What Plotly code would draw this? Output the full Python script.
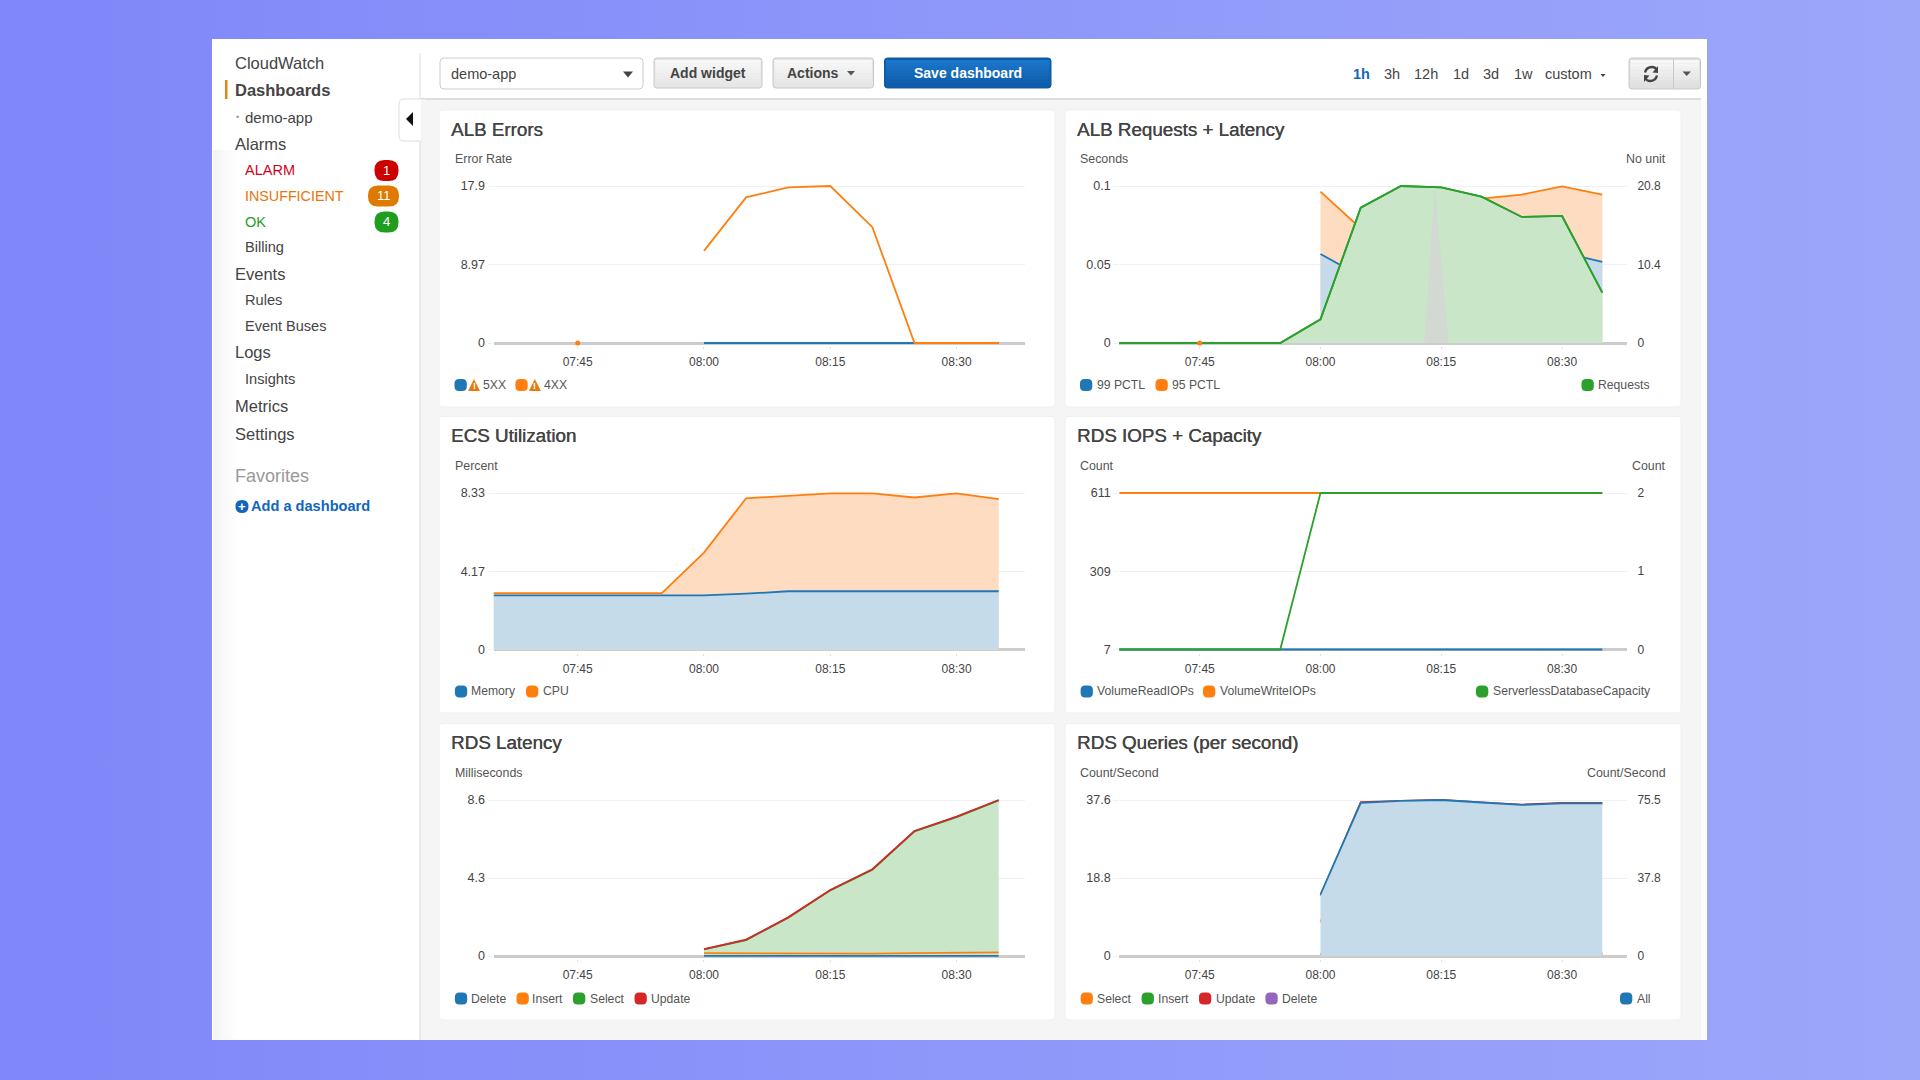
import plotly.graph_objects as go
from urllib.parse import quote

# ---------- data ----------
DAY = "2024-01-01 "
times = ["07:35","07:40","07:45","07:50","07:55","08:00","08:05","08:10","08:15","08:20","08:25","08:30","08:35"]
x_ticks = ["07:45","08:00","08:15","08:30"]

alb_5xx = [None,None,None,None,None,0,0,0,0,0,0,0,0]
alb_4xx = [None,None,None,None,None,10.5,16.6,17.75,17.9,13.2,0,0,0]
alb_4xx_dot = [None,None,0,None,None,None,None,None,None,None,None,None,None]

p99 = [None,None,None,None,None,0.0567,0.0425,0.045,0.047,0.05,0.055,0.0577,0.0516]
p95 = [None,None,None,None,None,0.0964,0.073,0.08,0.085,0.092,0.0945,0.0998,0.0945]
p95_dot = [None,None,0,None,None,None,None,None,None,None,None,None,None]
requests = [0,0,0,0,0,3.13,17.93,20.8,20.62,19.39,16.7,16.83,6.67]
spike_t = ["08:12:54","08:14:12","08:15:54"]
spike_v = [0,20.5,0]

memory = [2.88,2.88,2.88,2.88,2.88,2.88,2.97,3.10,3.10,3.10,3.10,3.10,3.10]
cpu = [3.0,3.0,3.0,3.0,3.0,5.16,8.05,8.18,8.31,8.31,8.09,8.31,8.0]

read_iops = [7,7,7,7,7,7,7,7,7,7,7,7,7]
write_iops = [611,611,611,611,611,611,611,611,611,611,611,611,611]
capacity = [0,0,0,0,0,2,2,2,2,2,2,2,2]

lat_delete = [None,None,None,None,None,0.01,0.01,0.01,0.01,0.01,0.01,0.01,0.01]
lat_insert = [None,None,None,None,None,0.157,0.15,0.14,0.11,0.13,0.157,0.18,0.2]
lat_select = [None,None,None,None,None,0.36,0.88,2.11,3.62,4.76,6.87,7.66,8.58]
lat_update = [None,None,None,None,None,0.38,0.90,2.13,3.64,4.78,6.89,7.68,8.6]

q_select = [None,None,None,None,None,8.1,36.6,36.9,37.2,36.8,36.3,36.6,36.6]
q_insert = [None,None,None,None,None,0.5,0.6,0.6,0.6,0.6,0.6,0.6,0.6]
q_update = [None,None,None,None,None,14.5,37.1,37.4,37.6,37.0,36.5,36.9,36.9]
q_delete = [None,None,None,None,None,0.5,0.5,0.5,0.5,0.5,0.5,0.5,0.5]
q_all = [None,None,None,None,None,29.8,74.1,75.1,75.5,74.3,73.1,73.9,73.9]

BLUE, ORANGE, GREEN, RED, PURPLE = "#1f77b4", "#ff7f0e", "#2ca02c", "#d62728", "#9467bd"
F_BLUE, F_ORANGE, F_GREEN = "#c5dbea", "#fddcc1", "#c9e6c9"
FONT = "Liberation Sans"
TXT = "#444444"

W, H = 1920, 1080
def fx(p): return p / W
def fy(p): return 1 - p / H
def T(t): return DAY + t

fig = go.Figure()
shapes, annots = [], []

def rrect(x0, y0, x1, y1, r, fill, line=None, lw=1):
    px = lambda a: f"{fx(a):.6f}"
    py = lambda a: f"{fy(a):.6f}"
    d = (f"M {px(x0+r)} {py(y0)} L {px(x1-r)} {py(y0)} Q {px(x1)} {py(y0)} {px(x1)} {py(y0+r)} "
         f"L {px(x1)} {py(y1-r)} Q {px(x1)} {py(y1)} {px(x1-r)} {py(y1)} "
         f"L {px(x0+r)} {py(y1)} Q {px(x0)} {py(y1)} {px(x0)} {py(y1-r)} "
         f"L {px(x0)} {py(y0+r)} Q {px(x0)} {py(y0)} {px(x0+r)} {py(y0)} Z")
    shapes.append(dict(type="path", xref="paper", yref="paper", path=d, fillcolor=fill, layer="below",
                       line=dict(color=line or "rgba(0,0,0,0)", width=lw if line else 0)))

def rect(x0, y0, x1, y1, fill):
    shapes.append(dict(type="rect", xref="paper", yref="paper", x0=fx(x0), x1=fx(x1), y0=fy(y0), y1=fy(y1),
                       fillcolor=fill, line=dict(width=0), layer="below"))

def hline(x0, x1, y, color, w=1):
    shapes.append(dict(type="line", xref="paper", yref="paper", x0=fx(x0), x1=fx(x1), y0=fy(y), y1=fy(y),
                       line=dict(color=color, width=w), layer="below"))

def vline(x, y0, y1, color, w=1):
    shapes.append(dict(type="line", xref="paper", yref="paper", x0=fx(x), x1=fx(x), y0=fy(y0), y1=fy(y1),
                       line=dict(color=color, width=w), layer="below"))

def tri(pts, fill):
    d = "M " + " L ".join(f"{fx(a):.6f} {fy(b):.6f}" for a, b in pts) + " Z"
    shapes.append(dict(type="path", xref="paper", yref="paper", path=d, fillcolor=fill, line=dict(width=0), layer="below"))

def curve(p0, c, p1, color, w):
    d = f"M {fx(p0[0]):.6f} {fy(p0[1]):.6f} Q {fx(c[0]):.6f} {fy(c[1]):.6f} {fx(p1[0]):.6f} {fy(p1[1]):.6f}"
    shapes.append(dict(type="path", xref="paper", yref="paper", path=d, fillcolor="rgba(0,0,0,0)",
                       line=dict(color=color, width=w), layer="below"))

def text(x, y, s, size=14, color=TXT, anchor="left", bold=False, font=FONT, heavy=False):
    f = dict(family=font, size=size, color=color, weight=700 if bold else 400)
    if heavy:
        f["shadow"] = f"0.35px 0 0 {color}"
    annots.append(dict(xref="paper", yref="paper", x=fx(x), y=fy(y), text=s, showarrow=False, xanchor=anchor,
                       yanchor="middle", borderpad=0, borderwidth=0, font=f))

def lerp_hex(a, b, t):
    ca = [int(a[i:i+2], 16) for i in (1, 3, 5)]
    cb = [int(b[i:i+2], 16) for i in (1, 3, 5)]
    return "#" + "".join(f"{round(u + (v-u)*t):02x}" for u, v in zip(ca, cb))

def button(x0, y0, x1, y1, top, bottom, border):
    rrect(x0, y0, x1, y1, 3, bottom, border, 1)
    n = 8
    h = (y1 - y0 - 4) / n
    for i in range(n):
        rect(x0 + 1.5, y0 + 2 + i*h, x1 - 1.5, y0 + 2 + (i+1)*h + 0.4, lerp_hex(top, bottom, i/(n-1)))

# ---------- page chrome ----------
bg_svg = ("<svg xmlns='http://www.w3.org/2000/svg' width='1920' height='1080'>"
          "<defs><linearGradient id='g' x1='0' y1='0' x2='1' y2='0'>"
          "<stop offset='0' stop-color='#7f87f9'/><stop offset='1' stop-color='#9ca7fa'/>"
          "</linearGradient></defs><rect width='1920' height='1080' fill='url(#g)'/></svg>")
rect(212, 39, 1707, 1040, "#ffffff")
for i in range(10):
    rect(213 + i*2.6, 150, 213 + (i+1)*2.6 + 0.3, 1040, lerp_hex("#f4f4f4", "#ffffff", i/9))
rect(420, 100, 1707, 1040, "#f5f5f5")
rect(1701, 100, 1707, 1040, "#fbfbfb")
hline(420, 1701, 99, "#dddddd", 2)
vline(420, 53, 1040, "#dddddd", 1)
rect(225, 80, 227.5, 99, "#e58218")

side = [("CloudWatch", 235, 63, 16.5, TXT, False), ("Dashboards", 235, 90.5, 16.5, TXT, True),
        ("demo-app", 245, 117, 15, TXT, False), ("Alarms", 235, 144, 16.5, TXT, False),
        ("ALARM", 245, 170.5, 14.5, "#d0021b", False), ("INSUFFICIENT", 245, 196, 14.3, "#e8750a", False),
        ("OK", 245, 221.5, 14.5, "#1f9d1f", False), ("Billing", 245, 247, 14.6, TXT, False),
        ("Events", 235, 274, 16.5, TXT, False), ("Rules", 245, 300, 14.6, TXT, False),
        ("Event Buses", 245, 326, 14.5, TXT, False), ("Logs", 235, 352.5, 16.5, TXT, False),
        ("Insights", 245, 379, 14.6, TXT, False), ("Metrics", 235, 406, 16.5, TXT, False),
        ("Settings", 235, 433.5, 16.5, TXT, False), ("Favorites", 235, 476, 18, "#999999", False),
        ("Add a dashboard", 251, 506, 14.6, "#1166bb", True)]
for s, x, y, sz, c, b in side:
    text(x, y, s, sz, c, bold=b)
text(237, 117, "•", 9, "#999999", anchor="center")
rrect(235.5, 500, 248.5, 513, 6.5, "#1166bb")
text(242, 506, "+", 13, "#ffffff", anchor="center", bold=True)
for cx, cy, w, col, lab in [(386.5, 170.5, 24, "#cc0000", "1"), (383.5, 196, 31, "#df7a00", "11"), (386.5, 222, 24, "#1f9d1f", "4")]:
    rrect(cx - w/2, cy - 10.5, cx + w/2, cy + 10.5, 10, col)
    text(cx, cy, lab, 13, "#ffffff", anchor="center")

rrect(399, 99, 425, 141, 5, "#ffffff", "#dddddd", 1)
rect(419.5, 99.6, 426, 140.4, "#ffffff")
rect(421, 100.2, 426, 140, "#f5f5f5")
vline(420, 99, 141, "#ffffff", 1)
tri([(413, 112), (413, 126), (406, 119)], "#111111")

rrect(440, 58, 643, 89, 4, "#ffffff", "#cccccc", 1)
text(451, 74, "demo-app", 14.5, TXT)
tri([(623, 71.5), (633, 71.5), (628, 77.5)], "#444444")
button(654, 58, 762, 88, "#f7f7f7", "#e6e6e6", "#c8c8c8")
text(708, 73, "Add widget", 14, TXT, anchor="center", bold=True)
button(773, 58, 873.5, 88, "#f7f7f7", "#e6e6e6", "#c8c8c8")
text(813, 73, "Actions", 14, TXT, anchor="center", bold=True)
tri([(847, 71), (855, 71), (851, 75.5)], "#555555")
button(884.5, 58, 1051, 88, "#1b77cb", "#0f5cab", "#0e5aa6")
text(968, 73, "Save dashboard", 14, "#ffffff", anchor="center", bold=True)
for s, x, c, b in [("1h", 1361, "#1166bb", True), ("3h", 1391.5, TXT, False), ("12h", 1426, TXT, False),
                   ("1d", 1460.5, TXT, False), ("3d", 1491, TXT, False), ("1w", 1523, TXT, False), ("custom", 1568.5, TXT, False)]:
    text(x, 73.7, s, 14.5, c, anchor="center", bold=b)
tri([(1600.5, 74), (1605.5, 74), (1603, 77)], "#444444")
button(1629, 58, 1700.5, 89, "#f7f7f7", "#e0e0e0", "#c8c8c8")
vline(1673.5, 58, 89, "#c8c8c8", 1)
curve((1645, 72.5), (1646.5, 67), (1652, 67), "#444444", 2.4)
curve((1652, 67), (1655, 67), (1656.5, 69.5), "#444444", 2.4)
tri([(1658, 66), (1658, 73), (1652.5, 72.5)], "#444444")
curve((1657, 75.5), (1655.5, 81), (1650, 81), "#444444", 2.4)
curve((1650, 81), (1647, 81), (1645.5, 78.5), "#444444", 2.4)
tri([(1644, 82), (1644, 75), (1649.5, 75.5)], "#444444")
tri([(1682.5, 71.5), (1691, 71.5), (1686.75, 76)], "#555555")

# ---------- panels ----------
LEFT = dict(x0=439, x1=1055, px0=493.5, px1=1024.5, tx=451, ux=454.5)
RIGHT = dict(x0=1065, x1=1681, px0=1119.2, px1=1627, tx=1077, ux=1080)
ROWS = [dict(top=110, bot=407, g0=186, g1=343, ty=129, uy=159, ly=385),
        dict(top=416.5, bot=713, g0=493, g1=649.5, ty=436, uy=466, ly=691.5),
        dict(top=723.5, bot=1020, g0=800, g1=956, ty=742, uy=773, ly=998.5)]
XRANGE = [T("07:35"), T("08:38:04")]
PAD = 3  # blank pixels kept on each side of the value range, so edge lines are not cut

layout = {}
def padded(r, row):
    p = (r[1] - r[0]) * PAD / (row["g1"] - row["g0"])
    return [r[0] - p, r[1] + p]

def panel(n, col, row, title, uleft, uright, lv, lt, lrange, rv=None, rt=None, rrange=None, legend=()):
    rrect(col["x0"], row["top"], col["x1"], row["bot"], 4, "#ffffff", "#f0f0f0", 1)
    text(col["tx"], row["ty"], title, 18.8, "#444444", heavy=True)
    text(col["ux"], row["uy"], uleft, 12.4, "#555555")
    if uright:
        text(1666, row["uy"], uright, 12.4, "#555555", anchor="right")
    for kind, sx, tx_, lab, c in legend:
        y = row["ly"]
        rrect(sx, y - 6, sx + 12.3, y + 6, 4.5, c)
        if kind == "warn":
            tri([(sx + 19.5, y - 6), (sx + 25.5, y + 6), (sx + 13.5, y + 6)], "#e57c12")
            text(sx + 19.5, y + 1, "!", 9, "#ffffff", anchor="center", bold=True)
        text(tx_, y, lab, 12.2, "#555555")
    xn = f"xaxis{n if n > 1 else ''}"
    ly = 2*n - 1
    layout[xn] = dict(domain=[fx(col["px0"]), fx(col["px1"])], range=XRANGE, type="date", anchor=f"y{ly if ly > 1 else ''}",
                      tickvals=[T(t) for t in x_ticks], ticktext=x_ticks, tickmode="array",
                      ticks="outside", ticklen=2, tickcolor="#e0e0e0", tickwidth=1, ticklabelstandoff=3,
                      showline=False, layer="below traces", automargin=False,
                      showgrid=False, zeroline=False, fixedrange=True,
                      tickfont=dict(family=FONT, size=12, color=TXT))
    dom = [fy(row["g1"] + PAD), fy(row["g0"] - PAD)]
    ax = f"x{n if n > 1 else ''}"
    has_zero_left = lrange[0] == 0
    layout[f"yaxis{ly if ly > 1 else ''}"] = dict(domain=dom, range=padded(lrange, row), anchor=ax, tickmode="array", tickvals=lv, ticktext=lt,
                      ticks="outside", ticklen=5, tickcolor="#f0f0f0", ticklabelstandoff=0, showgrid=True, gridcolor="#f0f0f0",
                      gridwidth=1.2, zeroline=has_zero_left, zerolinecolor="#cccccc", zerolinewidth=2.5,
                      showline=False, fixedrange=True, automargin=False,
                      tickfont=dict(family=FONT, size=12.5, color=TXT))
    if rv:
        layout[f"yaxis{2*n}"] = dict(domain=dom, range=padded(rrange, row), anchor=ax, overlaying=f"y{ly if ly > 1 else ''}", side="right",
                      tickmode="array", tickvals=rv, ticktext=rt, ticks="outside", ticklen=5, tickcolor="rgba(0,0,0,0)",
                      ticklabelstandoff=2, showgrid=False, zeroline=not has_zero_left, zerolinecolor="#cccccc", zerolinewidth=2.5,
                      showline=False, fixedrange=True, automargin=False,
                      tickfont=dict(family=FONT, size=12, color=TXT))

def add(n, right, y, color, fill=None, xs=None, mode="lines", name=""):
    ly = 2*n - 1
    yax = f"y{2*n}" if right else f"y{ly if ly > 1 else ''}"
    xax = f"x{n if n > 1 else ''}"
    kw = dict(x=[T(t) for t in (xs or times)], y=y, mode=mode, xaxis=xax, yaxis=yax, name=name,
              showlegend=False, hoverinfo="skip", connectgaps=False)
    if mode == "markers":
        kw["marker"] = dict(color=color, size=5)
    else:
        kw["line"] = dict(color=color, width=1.8)
    if fill:
        kw["fill"] = "tozeroy"
        kw["fillcolor"] = fill
    fig.add_trace(go.Scatter(**kw))

# ALB Errors
panel(1, LEFT, ROWS[0], "ALB Errors", "Error Rate", None, [0, 8.97, 17.9], ["0", "8.97", "17.9"], [0, 17.9],
      legend=[("warn", 454.5, 483, "5XX", BLUE), ("warn", 515.4, 544, "4XX", ORANGE)])
add(1, False, alb_5xx, BLUE, name="5XX")
add(1, False, alb_4xx, ORANGE, name="4XX")
add(1, False, alb_4xx_dot, ORANGE, mode="markers", name="4XX")

# ALB Requests + Latency
panel(2, RIGHT, ROWS[0], "ALB Requests + Latency", "Seconds", "No unit", [0, 0.05, 0.1], ["0", "0.05", "0.1"], [0, 0.1],
      [0, 10.4, 20.8], ["0", "10.4", "20.8"], [0, 20.8],
      legend=[("", 1080, 1096.6, "99 PCTL", BLUE), ("", 1155.5, 1171.5, "95 PCTL", ORANGE), ("", 1581.5, 1598, "Requests", GREEN)])
add(2, False, p95, ORANGE, F_ORANGE, name="95 PCTL")
add(2, False, p99, BLUE, F_BLUE, name="99 PCTL")
add(2, True, requests, GREEN, F_GREEN, name="Requests")
fig.add_trace(go.Scatter(x=[T(t) for t in spike_t], y=spike_v, xaxis="x2", yaxis="y4", mode="lines", fill="toself",
                         fillcolor="#d2d8d2", line=dict(width=0), showlegend=False, hoverinfo="skip"))
# green line redrawn is kept above the spike
add(2, True, requests, GREEN, name="Requests")
add(2, True, p95_dot, ORANGE, mode="markers", name="95 PCTL")

# ECS Utilization
panel(3, LEFT, ROWS[1], "ECS Utilization", "Percent", None, [0, 4.17, 8.33], ["0", "4.17", "8.33"], [0, 8.33],
      legend=[("", 454.9, 471, "Memory", BLUE), ("", 526, 542.6, "CPU", ORANGE)])
add(3, False, cpu, ORANGE, F_ORANGE, name="CPU")
add(3, False, memory, BLUE, F_BLUE, name="Memory")

# RDS IOPS + Capacity
panel(4, RIGHT, ROWS[1], "RDS IOPS + Capacity", "Count", "Count", [7, 309, 611], ["7", "309", "611"], [7, 611],
      [0, 1, 2], ["0", "1", "2"], [0, 2],
      legend=[("", 1080.6, 1096.6, "VolumeReadIOPs", BLUE), ("", 1203, 1219.5, "VolumeWriteIOPs", ORANGE),
              ("", 1476, 1492.7, "ServerlessDatabaseCapacity", GREEN)])
add(4, False, read_iops, BLUE, name="VolumeReadIOPs")
add(4, False, write_iops, ORANGE, name="VolumeWriteIOPs")
add(4, True, capacity, GREEN, name="ServerlessDatabaseCapacity")

# RDS Latency
panel(5, LEFT, ROWS[2], "RDS Latency", "Milliseconds", None, [0, 4.3, 8.6], ["0", "4.3", "8.6"], [0, 8.6],
      legend=[("", 454.9, 471, "Delete", BLUE), ("", 516.5, 532.4, "Insert", ORANGE),
              ("", 573, 589.6, "Select", GREEN), ("", 634.5, 651.2, "Update", RED)])
add(5, False, lat_select, GREEN, F_GREEN, name="Select")
add(5, False, lat_update, RED, name="Update")
add(5, False, lat_insert, ORANGE, name="Insert")
add(5, False, lat_delete, BLUE, name="Delete")

# RDS Queries
panel(6, RIGHT, ROWS[2], "RDS Queries (per second)", "Count/Second", "Count/Second", [0, 18.8, 37.6], ["0", "18.8", "37.6"], [0, 37.6],
      [0, 37.8, 75.5], ["0", "37.8", "75.5"], [0, 75.5],
      legend=[("", 1080.6, 1096.6, "Select", ORANGE), ("", 1141.6, 1158, "Insert", GREEN), ("", 1199, 1215.7, "Update", RED),
              ("", 1265.4, 1281.8, "Delete", PURPLE), ("", 1620, 1636.6, "All", BLUE)])
add(6, False, q_select, ORANGE, name="Select")
add(6, False, q_insert, GREEN, name="Insert")
add(6, False, q_update, RED, name="Update")
add(6, False, q_delete, PURPLE, name="Delete")
add(6, True, q_all, BLUE, F_BLUE, name="All")

fig.update_layout(template="none", width=W, height=H, margin=dict(l=0, r=0, t=0, b=0, pad=0), paper_bgcolor="#8791f7",
                  plot_bgcolor="rgba(0,0,0,0)", showlegend=False, shapes=shapes, annotations=annots,
                  images=[dict(source="data:image/svg+xml;charset=utf-8," + quote(bg_svg), xref="paper", yref="paper",
                               x=0, y=1, sizex=1, sizey=1, xanchor="left", yanchor="top", sizing="stretch", layer="below")],
                  **layout)
fig.write_html("out.html", config=dict(displayModeBar=False, responsive=False),
               post_script="document.body.style.margin='0';document.body.style.overflow='hidden';")
